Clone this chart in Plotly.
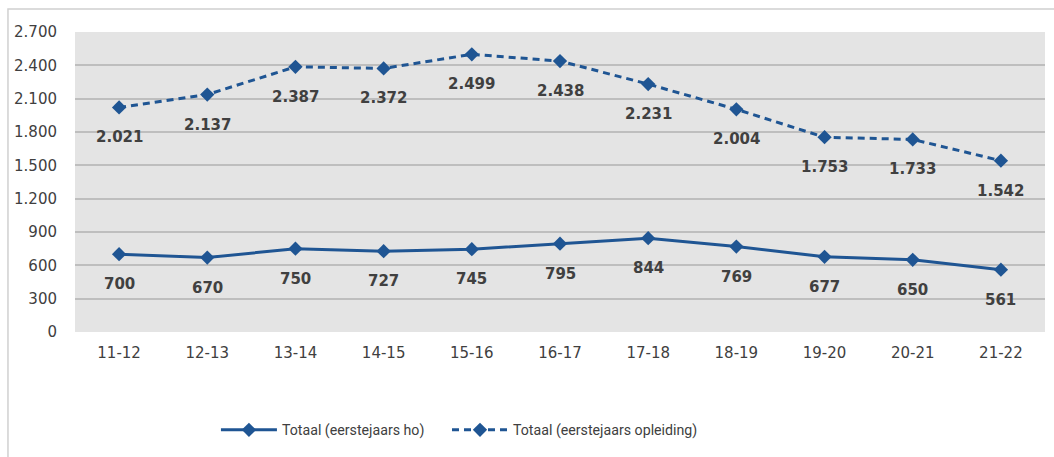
import plotly.graph_objects as go

# Academic years
years = ["11-12", "12-13", "13-14", "14-15", "15-16", "16-17",
         "17-18", "18-19", "19-20", "20-21", "21-22"]

# First-year student totals
totaal_ho = [700, 670, 750, 727, 745, 795, 844, 769, 677, 650, 561]
totaal_opleiding = [2021, 2137, 2387, 2372, 2499, 2438, 2231, 2004, 1753, 1733, 1542]

y_ticks = [0, 300, 600, 900, 1200, 1500, 1800, 2100, 2400, 2700]

BLUE = "#1F5593"
TEXT = "#404040"
FONT = "DejaVu Sans"
LEGEND_FONT = "Roboto"


def fmt(v):
    return f"{v:,}".replace(",", ".")


fig = go.Figure()

fig.add_trace(go.Scatter(
    x=years, y=totaal_ho, mode="lines+markers",
    name="Totaal (eerstejaars ho)",
    line=dict(color=BLUE, width=3),
    marker=dict(symbol="diamond", size=11, color=BLUE),
    legend="legend",
))
fig.add_trace(go.Scatter(
    x=years, y=totaal_opleiding, mode="lines+markers",
    name="Totaal (eerstejaars opleiding)",
    line=dict(color=BLUE, width=3, dash="7px,5px"),
    marker=dict(symbol="diamond", size=11, color=BLUE),
    legend="legend2",
))

# Value labels below each point
annotations = []
for series in (totaal_ho, totaal_opleiding):
    for x, v in zip(years, series):
        annotations.append(dict(
            x=x, y=v, xref="x", yref="y", text=fmt(v),
            showarrow=False, yshift=-30,
            font=dict(family=FONT, size=15, color=TEXT, weight="bold"),
        ))

legend_style = dict(
    orientation="h", xanchor="left", y=-0.327, yanchor="middle",
    font=dict(family=LEGEND_FONT, size=14.2, color=TEXT),
    itemwidth=56, bgcolor="rgba(0,0,0,0)",
)

fig.update_layout(
    width=1054, height=457,
    margin=dict(l=75, r=9, t=32, b=125),
    paper_bgcolor="white",
    plot_bgcolor="#E4E4E4",
    separators=",.",
    font=dict(family=FONT, size=15, color=TEXT),
    showlegend=True,
    legend=dict(x=0.1453, **legend_style),
    legend2=dict(x=0.3835, **legend_style),
    annotations=annotations,
    shapes=[dict(
        type="rect", xref="paper", yref="paper",
        x0=-0.0691, x1=1.02, y0=-0.43, y1=1.0767,
        line=dict(color="#D0D0D0", width=1.5),
        fillcolor="rgba(0,0,0,0)", layer="below",
    )],
)

fig.update_xaxes(
    type="category", range=[-0.5, 10.5],
    showgrid=False, zeroline=False, showline=False, ticks="",
    tickfont=dict(family=FONT, size=15, color=TEXT),
    ticklabelstandoff=10,
)
fig.update_yaxes(
    range=[0, 2700], tickvals=y_ticks, tickformat=",d",
    showgrid=True, gridcolor="#BEBEBE", gridwidth=1.5,
    zeroline=False, showline=False, ticks="",
    tickfont=dict(family=FONT, size=15, color=TEXT),
    ticklabelstandoff=17,
)

fig.write_html("out.html")
